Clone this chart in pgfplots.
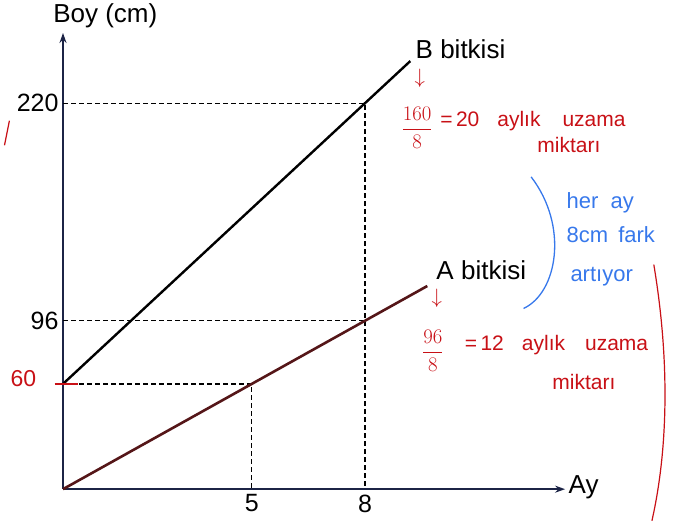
\documentclass[border=0pt]{standalone}
\usepackage{pgfplots}
\pgfplotsset{compat=1.18}
\usepackage{fontspec}
\setmainfont{Liberation Sans}
\usetikzlibrary{arrows.meta}

\definecolor{axisnavy}{RGB}{28,36,70}
\definecolor{lineA}{RGB}{85,22,24}
\definecolor{penred}{RGB}{200,16,22}
\definecolor{penblue}{RGB}{55,120,235}

\begin{document}
\begin{tikzpicture}
\begin{axis}[
  scale only axis,
  x=37.75pt, y=1.7545pt,
  xmin=0, xmax=13.3, ymin=0, ymax=260,
  axis lines=left,
  axis line style={axisnavy, line width=1.6pt, -{Stealth[length=10pt,width=7pt]}},
  xtick={5,8}, ytick={96,220},
  major tick length=0pt,
  tick label style={font=\fontsize{25}{28}\selectfont},
  /pgf/number format/assume math mode=true,
  xticklabel style={yshift=-2pt},
  yticklabel style={xshift=-1pt},
  clip=false
]
% page frame
\path (axis cs:-1.669,-19.95) rectangle (axis cs:16.397,278.7);

% dashed guides
\addplot[black, line width=1.3pt, dash pattern=on 5pt off 3pt] coordinates {(0,220) (8,220) (8,0)};
\addplot[black, line width=1.3pt, dash pattern=on 5pt off 3pt] coordinates {(0,96) (8,96)};
\addplot[black, line width=1.3pt, dash pattern=on 5pt off 3pt] coordinates {(0,60) (5,60) (5,0)};

% plants
\addplot[black, line width=2.4pt] coordinates {(0,60) (9.2,244)};
\addplot[lineA, line width=2.6pt] coordinates {(0,0) (9.65,115.8)};

% printed labels
\node[anchor=west, font=\fontsize{26}{30}\selectfont] at (axis cs:9.25,251) {B bitkisi};
\node[anchor=west, font=\fontsize{26}{30}\selectfont] at (axis cs:9.8,125) {A bitkisi};
\node[font=\fontsize{26}{30}\selectfont] at (axis cs:1.12,270) {Boy (cm)};
\node[anchor=west, font=\fontsize{26}{30}\selectfont] at (axis cs:13.3,1) {Ay};

% handwritten notes (red)
\node[penred, font=\fontsize{20}{22}\selectfont] at (axis cs:9.45,234) {$\downarrow$};
\node[penred, font=\fontsize{20}{22}\selectfont] at (axis cs:9.38,206) {$\displaystyle\frac{160}{8}$};
\node[penred, anchor=west, font=\fontsize{21}{24}\selectfont] at (axis cs:9.9,210)
  {=\,20\hspace{18pt}aylık\hspace{22pt}uzama};
\node[penred, font=\fontsize{21}{24}\selectfont] at (axis cs:13.4,196) {miktarı};

\node[penred, font=\fontsize{20}{22}\selectfont] at (axis cs:9.9,109) {$\downarrow$};
\node[penred, font=\fontsize{20}{22}\selectfont] at (axis cs:9.8,79) {$\displaystyle\frac{96}{8}$};
\node[penred, anchor=west, font=\fontsize{21}{24}\selectfont] at (axis cs:10.55,82)
  {=\,12\hspace{18pt}aylık\hspace{20pt}uzama};
\node[penred, font=\fontsize{21}{24}\selectfont] at (axis cs:13.8,61) {miktarı};

\node[penred, font=\fontsize{23}{26}\selectfont] at (axis cs:-1.05,63) {60};
\draw[penred, line width=2pt] (axis cs:-0.22,60) -- (axis cs:0.4,60);
\draw[penred, line width=1.2pt] (axis cs:-1.42,210) -- (axis cs:-1.55,196);
\draw[penred, line width=1.2pt] (axis cs:15.65,128) .. controls (axis cs:16.1,70) and (axis cs:16.0,20) .. (axis cs:15.6,-18);

% handwritten notes (blue)
\draw[penblue, line width=1.3pt] (axis cs:12.4,178) .. controls (axis cs:13.4,150) and (axis cs:13.1,112) .. (axis cs:12.2,103);
\node[penblue, anchor=west, font=\fontsize{22}{24}\selectfont] at (axis cs:13.25,163) {her\hspace{12pt}ay};
\node[penblue, anchor=west, font=\fontsize{22}{24}\selectfont] at (axis cs:13.25,145) {8cm\hspace{10pt}fark};
\node[penblue, anchor=west, font=\fontsize{22}{24}\selectfont] at (axis cs:13.35,121) {artıyor};
\end{axis}
\end{tikzpicture}
\end{document}
